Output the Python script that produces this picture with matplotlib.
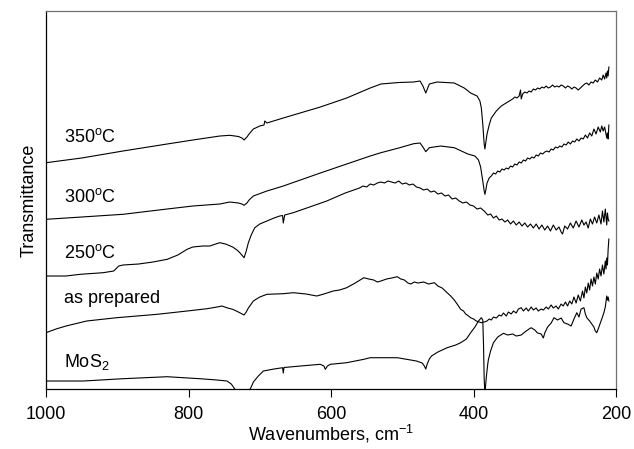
import numpy as np
import matplotlib
matplotlib.use("Agg")
import matplotlib.pyplot as plt

plt.rcParams['font.family'] = ['Liberation Sans', 'DejaVu Sans']
plt.rcParams['mathtext.fontset'] = 'custom'
plt.rcParams['mathtext.rm'] = 'Liberation Sans'
plt.rcParams['mathtext.it'] = 'Liberation Sans:italic'
plt.rcParams['mathtext.bf'] = 'Liberation Sans:bold'

# spectra: (wavenumber, transmittance in arbitrary units)
spec_350 = [(1000, 226.3), (950, 231), (892, 238), (830, 245), (794, 249), (756, 253), (742, 253.7),
            (730, 252.5), (725, 251), (722, 249), (718, 252), (715, 255), (709, 260), (700, 263),
            (694, 264), (693, 268), (690, 266), (667, 271), (615, 282), (578, 291), (545, 301),
            (530, 305), (505, 306.5), (484, 307), (475, 308), (471, 303), (467, 296), (462, 305),
            (451, 307), (427, 306), (413, 301), (404, 296), (395, 293), (391, 288), (389, 281),
            (387, 265), (385, 245), (384, 240), (383, 245), (381, 255), (378, 264), (375, 271),
            (368, 278), (361, 283), (352, 287), (345, 290), (342, 292), (339, 291), (336, 293),
            (334, 299), (333, 290), (331, 295), (328, 297), (325, 296), (322, 298), (319, 297),
            (316, 300), (313, 299), (310, 301), (307, 300), (304, 302), (301, 301), (298, 303),
            (295, 301), (292, 302), (289, 304), (286, 302), (283, 303), (280, 302), (277, 304),
            (274, 303), (271, 301), (268, 303), (265, 302), (262, 300), (259, 302), (256, 301),
            (253, 299), (250, 301), (247, 303), (244, 305), (241, 306), (238, 304), (235, 307),
            (232, 306), (229, 309), (226, 307), (223, 311), (220, 309), (218, 314), (216, 310),
            (214, 316), (213, 311), (212, 318), (211, 313), (210, 322)]

spec_300 = [(1000, 169.7), (950, 172), (892, 174.7), (830, 180), (794, 183), (756, 185), (742, 187),
            (730, 186), (725, 185), (722, 183.7), (718, 186), (715, 189), (709, 193), (690, 198),
            (667, 203), (615, 216), (578, 225), (545, 233), (530, 236.3), (505, 241), (484, 245.3),
            (475, 246), (471, 242), (467, 237.3), (462, 241.3), (446, 243), (427, 241.3), (408, 235),
            (398, 233), (393, 229), (390, 222), (387, 208), (385, 198), (384, 194.7), (383, 198),
            (381, 206), (378, 211), (375, 213), (372, 216), (369, 215), (366, 218), (363, 217),
            (360, 220), (357, 219), (354, 221), (351, 220), (348, 223), (345, 222), (342, 225),
            (339, 224), (336, 227), (333, 226), (330, 229), (327, 228), (324, 231), (321, 230),
            (318, 232), (315, 231), (312, 234), (309, 233), (306, 236), (303, 235), (300, 237),
            (297, 238), (294, 237), (291, 240), (288, 239), (285, 242), (282, 241), (279, 243),
            (276, 242), (273, 245), (270, 244), (267, 247), (264, 245), (261, 248), (258, 247),
            (255, 250), (252, 248), (249, 251), (246, 250), (243, 254), (240, 251), (237, 256),
            (234, 253), (231, 260), (228, 255), (225, 262), (222, 257), (220, 263), (218, 258),
            (216, 262), (214, 255), (213, 251), (212, 256), (211, 250), (210, 264)]

spec_250 = [(1000, 113), (985, 113), (972, 113), (952, 114.7), (920, 116.3), (905, 118), (898, 123),
            (892, 124), (870, 125), (850, 127), (830, 129.7), (815, 134), (802, 139.7), (794, 142),
            (780, 143), (770, 143), (762, 145), (756, 146.3), (748, 145), (738, 142), (732, 139),
            (728, 136.3), (722, 131.3), (719, 138), (716, 146.3), (712, 154), (707, 161.3), (700, 165),
            (690, 168), (680, 171), (672, 173), (668, 173.5), (667, 166), (665, 174), (653, 176.3),
            (630, 182), (606, 188), (580, 196), (560, 201), (555, 203), (550, 202), (545, 205),
            (540, 204), (535, 206), (530, 207), (525, 206), (520, 208), (515, 207), (510, 206),
            (505, 208), (500, 205), (495, 206), (490, 204), (485, 205), (480, 202), (475, 201),
            (470, 199), (465, 200), (460, 197), (455, 198), (450, 195), (445, 196), (440, 193),
            (435, 194), (430, 190), (425, 191), (420, 188), (415, 186), (410, 187), (405, 184),
            (400, 183), (395, 180), (390, 181), (385, 178), (380, 174), (376, 175), (372, 171),
            (368, 173), (364, 169), (360, 170), (356, 167), (352, 169), (348, 165), (344, 168),
            (340, 164), (336, 167), (332, 163), (328, 166), (324, 162), (320, 165), (316, 161),
            (312, 165), (308, 160), (304, 164), (300, 159), (296, 163), (292, 158), (288, 164),
            (284, 159), (280, 162), (277, 157), (275, 155), (272, 163), (268, 160), (264, 166),
            (260, 161), (256, 168), (252, 162), (248, 169), (245, 164), (242, 167), (239, 161),
            (236, 170), (233, 165), (230, 172), (227, 166), (224, 174), (221, 165), (219, 178),
            (217, 167), (215, 180), (213, 164), (212, 176), (211, 170), (210, 168)]

spec_ap = [(1000, 56.3), (986, 60), (972, 63), (943, 68), (901, 71.3), (844, 74.7), (802, 78),
           (774, 80.3), (760, 82), (753, 83), (745, 81), (738, 79.7), (730, 77), (722, 74),
           (719, 77), (716, 81), (709, 88), (700, 92), (690, 94.7), (667, 95.3), (653, 96.3),
           (635, 95), (620, 93), (610, 95), (597, 98), (588, 99), (578, 101.3), (566, 106),
           (554, 111.3), (547, 110), (540, 109), (535, 107), (530, 108), (522, 110), (515, 111),
           (507, 112.3), (502, 110), (497, 109), (492, 106), (488, 105), (483, 107), (478, 106),
           (470, 107), (463, 105), (455, 106.3), (450, 103), (444, 101), (437, 96.3), (432, 93),
           (427, 89), (422, 84), (418, 79.7), (414, 78), (411, 75), (407, 73), (404, 71.3),
           (400, 70), (396, 68), (392, 67), (389, 66.3), (385, 67), (381, 68), (378, 70), (375, 69),
           (372, 72), (368, 71), (364, 74), (361, 73), (358, 76), (354, 73), (351, 77), (347, 75),
           (344, 78), (340, 76), (337, 80), (333, 81.3), (330, 78), (326, 81), (323, 78), (319, 82),
           (316, 79), (312, 81), (309, 78), (305, 80), (302, 79), (298, 82), (295, 80), (291, 84),
           (288, 81), (284, 83), (281, 80), (277, 85), (274, 83), (271, 87), (268, 83), (265, 88),
           (262, 85), (259, 92), (256, 86), (253, 94), (250, 88), (247, 98), (245, 91), (243, 102),
           (241, 96), (239, 106), (237, 99), (235, 110), (233, 103), (231, 112), (229, 105),
           (227, 116), (225, 110), (223, 120), (221, 113), (219, 124), (217, 115), (215, 128),
           (214, 120), (213, 131), (212, 124), (211, 140), (210, 150)]

spec_mos2 = [(1000, 8), (948, 8), (892, 10.3), (830, 12.3), (784, 10.3), (760, 9), (746, 8), (740, 5),
             (736, 1), (732, -3), (716, -3), (712, 2), (709, 7), (702, 13), (695, 18), (680, 20),
             (668, 21.3), (667, 16), (666, 21.5), (643, 23), (615, 24.7), (610, 23), (608, 19.7),
             (605, 23), (601, 24.7), (578, 26.3), (554, 29.7), (545, 31.3), (507, 31.3), (480, 28),
             (472, 26), (469, 23), (467, 20), (465, 25), (462, 30), (459, 33), (450, 37), (437, 41.3),
             (425, 44), (418, 46.3), (410, 50), (404, 56.3), (398, 62), (393, 68), (389, 71.3),
             (387, 69), (386, 46.3), (385, 10), (384, -5), (382, 12), (380, 25), (379, 29.7),
             (376, 38), (372, 46.3), (366, 52), (358, 55.7), (352, 54), (345, 55), (340, 53),
             (333, 54), (328, 57), (322, 60), (319, 61.3), (314, 59), (310, 56), (305, 55), (302, 51),
             (300, 56), (296, 62), (291, 66), (287, 71.3), (282, 69), (277, 71), (273, 66.3),
             (268, 65), (263, 63), (259, 70), (255, 76.3), (252, 72), (249, 80), (245, 81.3),
             (243, 75), (241, 71.3), (237, 68), (234, 65), (231, 62), (229, 58), (227, 56.3),
             (225, 60), (222, 66), (219, 72), (217, 76.3), (215, 82), (213, 93), (212, 89),
             (211, 92), (210, 88)]

labels = ['350$^{\\rm o}$C', '300$^{\\rm o}$C', '250$^{\\rm o}$C', 'as prepared', 'MoS$_2$']
label_y = [247.3, 187.3, 130.7, 85.7, 22.3]

fig = plt.figure(figsize=(6.34, 4.49), dpi=100)
ax = fig.add_axes([0.0726, 0.1336, 0.9716 - 0.0726, 0.9755 - 0.1336])

for spec in [spec_350, spec_300, spec_250, spec_ap, spec_mos2]:
    wn, t = zip(*spec)
    ax.plot(wn, t, color='black', lw=0.8)

for lab, y in zip(labels, label_y):
    ax.text(975, y, lab, fontsize=13, va='baseline', ha='left')

ax.set_xlim(1000, 200)
ax.set_ylim(0, 378)
ax.set_xticks([1000, 800, 600, 400, 200])
ax.set_yticks([])
ax.tick_params(axis='x', direction='out', length=5.5, width=0.8, labelsize=13, pad=7)
ax.set_xlabel('Wavenumbers, cm$^{-1}$', fontsize=13, labelpad=0)
ax.set_ylabel('Transmittance', fontsize=13, labelpad=6)
for s in ['top', 'right']:
    ax.spines[s].set_color('#707070')
for s in ax.spines.values():
    s.set_linewidth(0.9)

plt.savefig('out.png', dpi=100)
